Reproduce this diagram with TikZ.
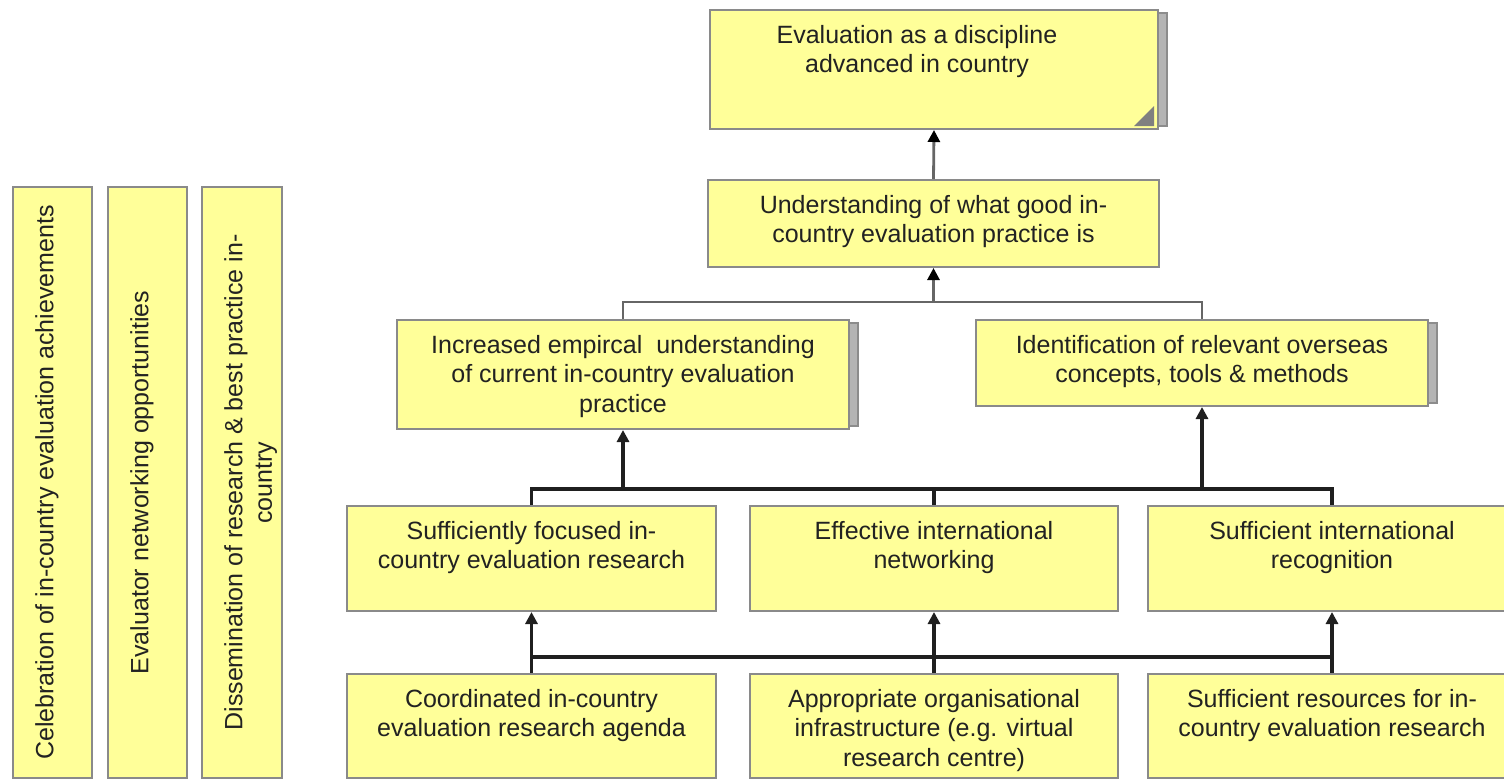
\documentclass[tikz,border=0pt]{standalone}
\usepackage{fontspec}
\setmainfont{Liberation Sans}
\usetikzlibrary{arrows.meta,backgrounds}
\definecolor{boxfill}{HTML}{FFFF99}
\definecolor{boxline}{HTML}{8A8A8A}
\definecolor{shadefill}{HTML}{B4B4B4}
\definecolor{shadeline}{HTML}{8C8C8C}
\definecolor{greyline}{HTML}{666666}
\definecolor{txtcol}{HTML}{222222}
\tikzset{
  box/.style={draw=boxline, fill=boxfill, line width=2pt, anchor=north west, inner sep=0pt},
  lbl/.style={font=\fontsize{25}{29.5}\selectfont, text=txtcol, align=center, anchor=north, inner sep=0pt},
  shade/.style={draw=shadeline, fill=shadefill, line width=1.5pt},
  lineG/.style={draw=greyline, line width=2.8pt},
  lineK/.style={draw=black!88, line width=3.2pt},
  arrG/.style={lineG, -{Triangle[width=12pt,length=12pt,color=black]}},
  arrK/.style={lineK, -{Triangle[width=12pt,length=12pt]}},
}
\newcommand\mkbox[5]{\node[box, minimum width=#3pt, minimum height=#4pt] (#5) at (#1,#2) {};}
\begin{document}
\begin{tikzpicture}[x=1pt,y=-1pt]
\useasboundingbox (0,0) rectangle (1504,779);
\clip (0,0) rectangle (1504,779);
% boxes
\mkbox{709}{9}{448}{119}{top}
\mkbox{707}{179}{451}{87}{und}
\mkbox{396}{319}{452}{109}{inc}
\mkbox{975}{319}{452}{86}{idn}
\mkbox{346}{505}{369}{105}{r4a}
\mkbox{749}{505}{368}{105}{r4b}
\mkbox{1147}{505}{368}{105}{r4c}
\mkbox{346}{673}{369}{104}{r5a}
\mkbox{749}{673}{368}{104}{r5b}
\mkbox{1147}{673}{368}{104}{r5c}
\mkbox{12}{186}{79}{591}{sA}
\mkbox{107}{186}{79}{591}{sB}
\mkbox{201}{186}{80}{591}{sC}
% shadows
\begin{scope}[on background layer]
  \draw[shade] ([xshift=-4pt,yshift=-4pt]top.north east) rectangle ([xshift=8pt,yshift=4pt]top.south east);
  \draw[shade] ([xshift=-4pt,yshift=-4pt]inc.north east) rectangle ([xshift=8pt,yshift=4pt]inc.south east);
  \draw[shade] ([xshift=-4pt,yshift=-4pt]idn.north east) rectangle ([xshift=8pt,yshift=4pt]idn.south east);
\end{scope}
\fill[gray] ([xshift=-5pt,yshift=4pt]top.south east) -- ++(0pt,20pt) -- ++(-20pt,-20pt) -- cycle;
% labels
\node[lbl] (ttop) at ([xshift=-17pt,yshift=-16pt]top.north) {Evaluation as a discipline\\advanced in country};
\node[lbl] (tund) at ([yshift=-16pt]und.north) {Understanding of what good in-\\country evaluation practice is};
\node[lbl] (tinc) at ([yshift=-16pt]inc.north) {Increased empircal\ \ understanding\\of current in-country evaluation\\practice};
\node[lbl] (tidn) at ([yshift=-16pt]idn.north) {Identification of relevant overseas\\concepts, tools \& methods};
\node[lbl] (tr4a) at ([yshift=-16pt]r4a.north) {Sufficiently focused in-\\country evaluation research};
\node[lbl] (tr4b) at ([yshift=-16pt]r4b.north) {Effective international\\networking};
\node[lbl] (tr4c) at ([yshift=-16pt]r4c.north) {Sufficient international\\recognition};
\node[lbl] (tr5a) at ([yshift=-16pt]r5a.north) {Coordinated in-country\\evaluation research agenda};
\node[lbl] (tr5b) at ([yshift=-16pt]r5b.north) {Appropriate organisational\\infrastructure (e.g. virtual\\research centre)};
\node[lbl] (tr5c) at ([yshift=-16pt]r5c.north) {Sufficient resources for in-\\country evaluation research};
\node[lbl, rotate=90] (tA) at ([xshift=23pt]sA.west) {Celebration of in-country evaluation achievements};
\node[lbl, rotate=90] (tB) at ([xshift=23pt]sB.west) {Evaluator networking opportunities};
\node[lbl, rotate=90] (tC) at ([xshift=23pt]sC.west) {Dissemination of research \& best practice in-\\country};
% connectors
\coordinate (bus1) at (932,302);
\coordinate (bus2) at (932,489);
\coordinate (bus3) at (932,657);
\draw[arrG] (und.north) -- (top.south);
\draw[lineG] (inc.north) -- (inc.north |- bus1) -- (idn.north |- bus1) -- (idn.north);
\draw[arrG] (und.south |- bus1) -- (und.south);
\draw[lineK] (r4a.north) -- (r4a.north |- bus2) -- (r4c.north |- bus2) -- (r4c.north);
\draw[lineK] (r4b.north) -- (r4b.north |- bus2);
\draw[arrK] (inc.south |- bus2) -- (inc.south);
\draw[arrK] (idn.south |- bus2) -- (idn.south);
\draw[lineK] (r5a.north) -- (r5a.north |- bus3) -- (r5c.north |- bus3) -- (r5c.north);
\draw[lineK] (r5b.north) -- (r5b.north |- bus3);
\draw[arrK] (r4a.south |- bus3) -- (r4a.south);
\draw[arrK] (r4b.south |- bus3) -- (r4b.south);
\draw[arrK] (r4c.south |- bus3) -- (r4c.south);
\end{tikzpicture}
\end{document}
